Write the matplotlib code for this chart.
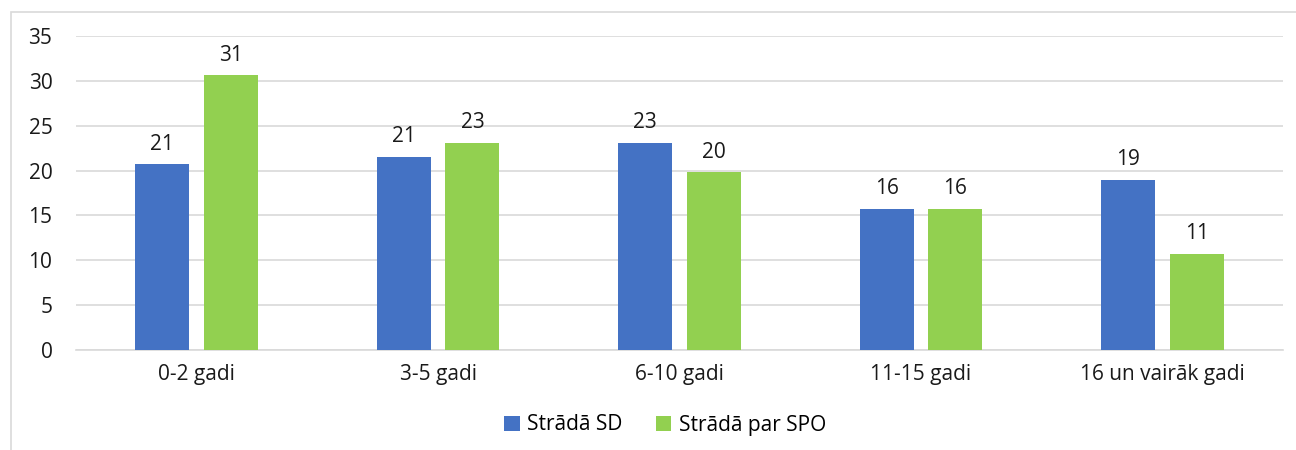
import matplotlib.pyplot as plt
import numpy as np
from matplotlib.patches import Rectangle

categories = ["0-2 gadi", "3-5 gadi", "6-10 gadi", "11-15 gadi", "16 un vairāk gadi"]
sd_values = [20.7, 21.5, 23.1, 15.7, 19.0]
spo_values = [30.6, 23.1, 19.8, 15.7, 10.7]
sd_labels = ["21", "21", "23", "16", "19"]
spo_labels = ["31", "23", "20", "16", "11"]

plt.rcParams['font.family'] = ['Open Sans', 'DejaVu Sans']

fig = plt.figure(figsize=(12.96, 4.5), dpi=100)
ax = fig.add_axes([76 / 1296, 1 - 350 / 450, (1283 - 76) / 1296, (350 - 36) / 450])

# outer chart frame (right and bottom edges cropped in the reference)
fig.patches.append(Rectangle((11 / 1296, -0.1), 1.2, 1 - 12 / 450 + 0.1,
                             transform=fig.transFigure, fill=False,
                             edgecolor='#D9D9D9', linewidth=1.2))

fs = 15
x = np.arange(len(categories))
width = 0.224
off = 0.142
b1 = ax.bar(x - off, sd_values, width, color='#4472C4', label='Strādā SD', zorder=3)
b2 = ax.bar(x + off, spo_values, width, color='#92D050', label='Strādā par SPO', zorder=3)

for bars, labels in ((b1, sd_labels), (b2, spo_labels)):
    for rect, lab in zip(bars, labels):
        ax.annotate(lab, (rect.get_x() + rect.get_width() / 2, rect.get_height()),
                    xytext=(0, 7), textcoords='offset points', ha='center', va='bottom',
                    fontsize=fs, color='#1a1a1a')

ax.set_xlim(-0.5, len(categories) - 0.5)
ax.set_ylim(0, 35)
ax.set_yticks(range(0, 36, 5))
ax.set_xticks(x)
ax.set_xticklabels(categories)
ax.tick_params(axis='both', length=0, labelsize=fs, colors='#1a1a1a')
ax.tick_params(axis='y', pad=17)
ax.tick_params(axis='x', pad=10)
ax.grid(axis='y', color='#D9D9D9', linewidth=1.2, zorder=0)
for s in ['top', 'right', 'left']:
    ax.spines[s].set_visible(False)
ax.spines['bottom'].set_color('#D9D9D9')
ax.spines['bottom'].set_linewidth(1.2)

fig.legend(loc='center', bbox_to_anchor=(665 / 1296, 1 - 425 / 450), ncol=2, frameon=False,
           fontsize=fs, handlelength=0.75, handleheight=0.75, columnspacing=1.6, handletextpad=0.35)

fig.savefig('out.png', dpi=100)
